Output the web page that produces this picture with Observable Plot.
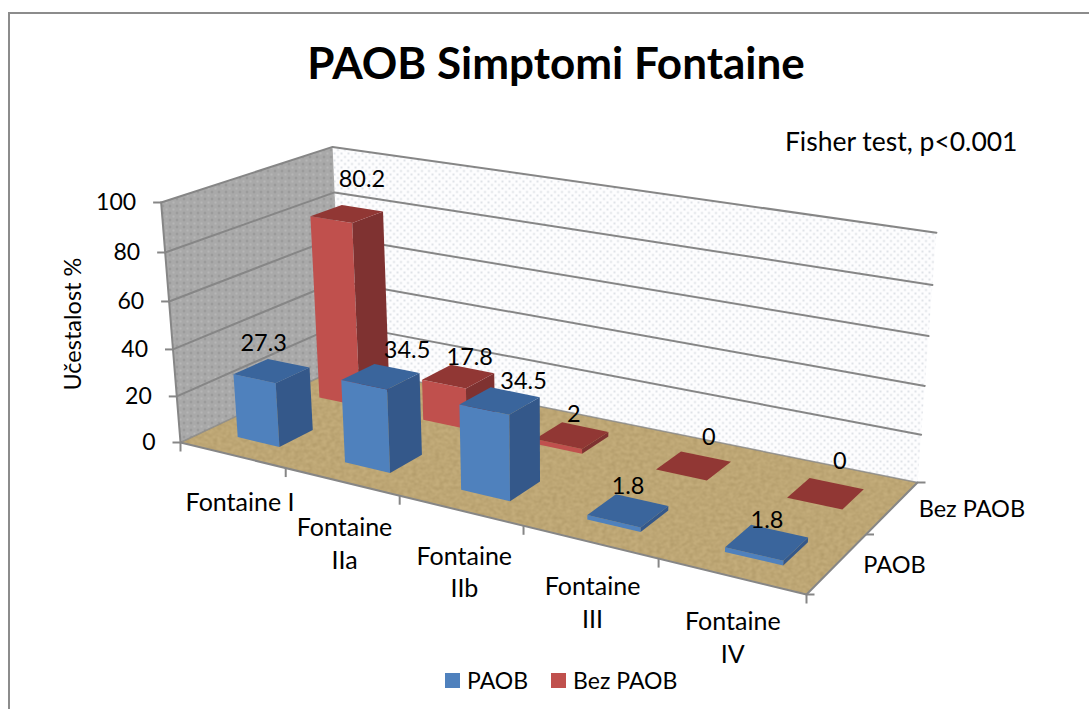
<!DOCTYPE html>
<html>
<head>
<meta charset="utf-8">
<script src="https://cdn.jsdelivr.net/npm/d3@7"></script>
<script src="https://cdn.jsdelivr.net/npm/@observablehq/plot@0.6"></script>
<style>
html,body{margin:0;padding:0;background:#fff;overflow:hidden}
body{width:1089px;height:709px;position:relative;font-family:Lato,"Open Sans",sans-serif;color:#000}
#frame{position:absolute;left:8px;top:12px;right:0;bottom:0;border-left:2px solid #8c8c8c;border-top:2px solid #8c8c8c}
#title{position:absolute;left:0;top:14px;width:1112px;height:96px;line-height:96px;text-align:center;font-size:44px;font-weight:700}
#chart{position:absolute;left:0;top:113px}
#chart svg{display:block}
#legend{position:absolute;left:445px;top:660px;height:40px;display:flex;align-items:center;font-size:23px}
#legend i{display:inline-block;width:15px;height:15px;margin-right:7px}
#legend span{margin-right:23px}
</style>
</head>
<body>
<div id="frame"></div>
<div id="title">PAOB Simptomi Fontaine</div>
<div id="chart"></div>
<div id="legend"></div>
<script>
// ---- data ----
const categories = ["Fontaine I", "Fontaine\nIIa", "Fontaine\nIIb", "Fontaine\nIII", "Fontaine\nIV"];
const seriesNames = ["PAOB", "Bez PAOB"];
const paob = [27.3, 34.5, 34.5, 1.8, 1.8];
const bezPaob = [80.2, 17.8, 2, 0, 0];
const valueTicks = [0, 20, 40, 60, 80, 100];

// ---- styles ----
const blue = {front: "#4f81bd", side: "#34588a", top: "#3a659c"};
const red = {front: "#c0504d", side: "#7f3231", top: "#913734"};
const grid = "#868686";
const font = 'Lato, "Open Sans", sans-serif';

// ---- camera: floor quad + vertical vanishing point, in picture space ----
const q = [[180, 442], [806, 594], [917, 482], [341.7, 366]];
const vp = [548, 5000], topFrontLeft = 202;
const [[x0, y0], [x1, y1], [x2, y2], [x3, y3]] = q;
const dx1 = x1 - x2, dx2 = x3 - x2, sx = x0 - x1 + x2 - x3;
const dy1 = y1 - y2, dy2 = y3 - y2, sy = y0 - y1 + y2 - y3;
const den = dx1 * dy2 - dx2 * dy1;
const g = (sx * dy2 - dx2 * sy) / den, h = (dx1 * sy - sx * dy1) / den;
const a = x1 - x0 + g * x1, b = x3 - x0 + h * x3;
const d = y1 - y0 + g * y1, e = y3 - y0 + h * y3;
const s = (topFrontLeft - y0) / (vp[1] - topFrontLeft);
// category position c in [0,5], series position z in [0,2], value in [0,100]
function project(c, z, val) {
  const u = c / categories.length, v = z / seriesNames.length, w = val / 100;
  const W = g * u + h * v + 1 + w * s;
  return {
    x: (a * u + b * v + x0 + w * s * vp[0]) / W - 2 * w * u * v,
    y: (d * u + e * v + y0 + w * s * vp[1]) / W + w * (10 * u * v - 4 * v)
  };
}
const poly = (fill, pts) => Plot.line(pts.map(p => project(...p)), {x: "x", y: "y", fill, stroke: "none"});
const path = (pts, o = {}) => Plot.line(pts.map(p => project(...p)), {x: "x", y: "y", stroke: grid, strokeWidth: 2, ...o});
const shifted = (p, dx, dy) => ({x: p.x + dx, y: p.y + dy});

// ---- bars ----
const BAR = 0.4, DEPTH = 0.4;
function barMarks(values, z, col) {
  const out = [];
  values.forEach((val, i) => {
    const c0 = i + (1 - BAR) / 2 + 0.005 * i, c1 = c0 + BAR;
    const z0 = z + (1 - DEPTH) / 2, z1 = z0 + DEPTH;
    if (val > 0) {
      out.push(poly(col.front, [[c0, z0, 0], [c1, z0, 0], [c1, z0, val], [c0, z0, val]]));
      out.push(poly(col.side, [[c1, z0, 0], [c1, z1, 0], [c1, z1, val], [c1, z0, val]]));
    }
    out.push(poly(col.top, [[c0, z0, val], [c1, z0, val], [c1, z1, val], [c0, z1, val]]));
  });
  return out;
}

// ---- hand placed label offsets, from the centre of each bar top ----
const offsPaob = [[-8, -27], [27, -26], [25, -19], [2, -24], [3, -21]];
const offsBez = [[15, -34], [12, -19], [3, -21], [17, -28], [17, -31]];
const labelRows = [
  ...paob.map((v, i) => ({t: String(v), ...shifted(project(i + .5, .5, v), ...offsPaob[i])})),
  ...bezPaob.map((v, i) => ({t: String(v), ...shifted(project(i + .5, 1.5, v), ...offsBez[i])}))
];

// ---- axis pieces ----
const catTickRows = d3.range(categories.length + 1).map(i => {
  const p = project(i, 0, 0);
  return {x1: p.x, y1: p.y, x2: p.x, y2: p.y + 9};
});
const serTickRows = d3.range(seriesNames.length + 1).map(i => {
  const p = project(categories.length, i, 0);
  return {x1: p.x, y1: p.y, x2: p.x + 8, y2: p.y};
});
const valTickRows = valueTicks.map(v => {
  const p = project(0, 0, v);
  return {x1: p.x, y1: p.y, x2: p.x - 8, y2: p.y, t: String(v)};
});
const catOffs = [[8, 45], [3, 60], [4, 60], [3, 59], [2, 60]];
const catLabelRows = categories.map((t, i) => ({t, ...shifted(project(i + .5, 0, 0), ...catOffs[i])}));
const serLabelRows = seriesNames.map((t, i) => ({t, ...shifted(project(categories.length, i + .5, 0), 26, 2)}));

const nC = categories.length, nS = seriesNames.length;
const marks = [
  poly("url(#backDots)", [[0, nS, 0], [nC, nS, 0], [nC, nS, 100], [0, nS, 100]]),
  poly("url(#sideDots)", [[0, 0, 0], [0, nS, 0], [0, nS, 100], [0, 0, 100]]),
  ...valueTicks.filter(v => v > 0).map(v => path([[0, 0, v], [0, nS, v], [nC, nS, v]])),
  poly("url(#floorTex)", [[0, 0, 0], [nC, 0, 0], [nC, nS, 0], [0, nS, 0]]),
  path([[0, 0, 0], [0, nS, 0], [nC, nS, 0]], {strokeWidth: 1.5, strokeOpacity: .8}),
  path([[0, 0, 0], [nC, 0, 0], [nC, nS, 0]]),
  path([[0, 0, 0], [0, 0, 100]]),
  Plot.link(catTickRows, {x1: "x1", y1: "y1", x2: "x2", y2: "y2", stroke: grid, strokeWidth: 2}),
  Plot.link(serTickRows, {x1: "x1", y1: "y1", x2: "x2", y2: "y2", stroke: grid, strokeWidth: 2}),
  Plot.link(valTickRows, {x1: "x1", y1: "y1", x2: "x2", y2: "y2", stroke: grid, strokeWidth: 2}),
  ...barMarks(bezPaob, 1, red),
  ...barMarks(paob, 0, blue),
  Plot.text(labelRows, {x: "x", y: "y", text: "t", fontSize: 23.5, fill: "#000"}),
  Plot.text(valTickRows, {x: "x2", y: "y2", text: "t", textAnchor: "end", dx: -17, fontSize: 23, fill: "#000"}),
  Plot.text(catLabelRows, {x: "x", y: "y", text: "t", fontSize: 25, lineHeight: 1.32, fill: "#000"}),
  Plot.text(serLabelRows, {x: "x", y: "y", text: "t", textAnchor: "start", fontSize: 23.5, fill: "#000"}),
  Plot.text(["Fisher test, p<0.001"], {frameAnchor: "top-left", dx: 1017, dy: 19, fontSize: 26.5, textAnchor: "end", fill: "#000"}),
  Plot.text(["Učestalost %"], {frameAnchor: "left", dx: 73, dy: -18.5, rotate: -90, fontSize: 23.5, fill: "#000"})
];

const chart = Plot.plot({
  width: 1089, height: 591, margin: 0,
  style: {background: "transparent", fontFamily: font},
  x: {domain: [0, 1089], range: [0, 1089], axis: null},
  y: {domain: [113, 704], range: [0, 591], axis: null},
  marks
});
chart.insertAdjacentHTML("afterbegin", `
<defs>
 <pattern id="backDots" width="7" height="7" patternUnits="userSpaceOnUse">
  <rect width="7" height="7" fill="#fdfdfe"/>
  <circle cx="1.5" cy="1.5" r="1" fill="#d6d9e0"/><circle cx="5" cy="5" r="1" fill="#d6d9e0"/>
 </pattern>
 <pattern id="sideDots" width="7" height="7" patternUnits="userSpaceOnUse">
  <rect width="7" height="7" fill="#a9a9a9"/>
  <circle cx="1.5" cy="1.5" r=".9" fill="#8a8a8a"/><circle cx="5" cy="5" r=".9" fill="#bcbcbc"/>
 </pattern>
 <filter id="papyrus" x="0" y="0" width="100%" height="100%" color-interpolation-filters="sRGB">
  <feTurbulence type="fractalNoise" baseFrequency="0.22 0.3" numOctaves="2" seed="4" stitchTiles="stitch"/>
  <feColorMatrix type="matrix" values="0 0 0 0 0.62  0 0 0 0 0.53  0 0 0 0 0.34  0 0 0 0.8 -0.22"/>
  <feComposite in2="SourceGraphic" operator="over"/>
 </filter>
 <pattern id="floorTex" width="240" height="240" patternUnits="userSpaceOnUse">
  <rect width="240" height="240" fill="#c4ad7b" filter="url(#papyrus)"/>
 </pattern>
</defs>`);
document.getElementById("chart").append(chart);

const legend = d3.select("#legend");
seriesNames.forEach((name, i) => {
  legend.append("i").style("background", [blue.front, red.front][i]);
  legend.append("span").text(name);
});
</script>
</body>
</html>
